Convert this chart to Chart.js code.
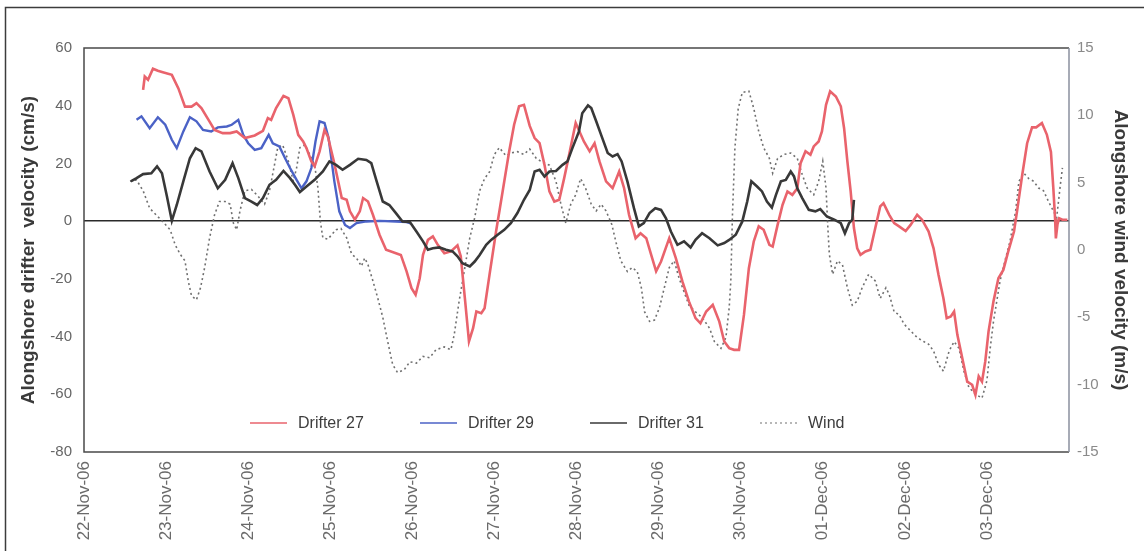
<!DOCTYPE html>
<html>
<head>
<meta charset="utf-8">
<script src="https://cdn.jsdelivr.net/npm/chart.js@4.4.0/dist/chart.umd.min.js"></script>
<style>
  html, body { margin: 0; padding: 0; background: #ffffff; }
  #wrap { position: relative; width: 1144px; height: 551px; }
</style>
</head>
<body>
<div id="wrap"><canvas id="chart" width="1144" height="551"></canvas></div>
<script>
// Date axis: one tick per day, starting 22-Nov-06 00:00 (x = days since then)
const dateLabels = ['22-Nov-06', '23-Nov-06', '24-Nov-06', '25-Nov-06', '26-Nov-06', '27-Nov-06',
  '28-Nov-06', '29-Nov-06', '30-Nov-06', '01-Dec-06', '02-Dec-06', '03-Dec-06'];

// Alongshore drifter velocity (cm/s), [day, value]
const drifter27 = [[0.72,45.5],[0.74,50.1],[0.78,49.0],[0.84,52.8],[0.90,52.1],[0.96,51.6],[1.07,50.7],[1.15,46.0],[1.23,39.7],[1.31,39.7],[1.37,40.9],[1.43,39.2],[1.53,34.5],[1.59,31.6],[1.69,30.5],[1.78,30.5],[1.86,31.1],[1.96,28.8],[2.08,29.7],[2.18,31.3],[2.24,35.7],[2.28,35.1],[2.34,39.2],[2.43,43.4],[2.49,42.6],[2.55,36.8],[2.61,29.9],[2.67,27.6],[2.71,25.3],[2.77,20.7],[2.81,19.0],[2.87,24.2],[2.93,31.6],[2.97,29.4],[3.05,20.0],[3.14,8.0],[3.20,7.4],[3.24,3.4],[3.30,0.5],[3.36,3.4],[3.40,8.0],[3.46,6.8],[3.52,2.2],[3.60,-4.7],[3.68,-9.9],[3.80,-11.1],[3.86,-11.7],[3.93,-17.4],[3.99,-23.2],[4.04,-25.5],[4.09,-19.8],[4.13,-11.7],[4.19,-6.5],[4.25,-5.3],[4.31,-8.2],[4.39,-11.1],[4.47,-10.5],[4.55,-8.4],[4.59,-12.2],[4.64,-26.7],[4.69,-41.7],[4.74,-37.1],[4.78,-31.3],[4.84,-31.9],[4.88,-30.2],[4.94,-18.6],[5.02,-3.6],[5.10,10.3],[5.18,24.2],[5.24,33.4],[5.30,39.8],[5.36,40.3],[5.43,33.0],[5.49,28.8],[5.55,27.0],[5.61,19.5],[5.67,10.3],[5.73,6.8],[5.79,7.4],[5.85,14.9],[5.91,23.0],[5.99,34.0],[6.09,27.6],[6.16,24.2],[6.22,27.0],[6.28,20.7],[6.36,13.8],[6.44,11.4],[6.52,17.2],[6.58,11.4],[6.64,2.2],[6.72,-5.9],[6.78,-4.2],[6.85,-5.9],[6.91,-11.7],[6.97,-17.4],[7.03,-14.0],[7.13,-5.9],[7.21,-12.8],[7.29,-20.9],[7.37,-27.8],[7.45,-33.6],[7.51,-35.4],[7.58,-31.3],[7.66,-29.0],[7.74,-34.8],[7.80,-41.7],[7.86,-44.0],[7.92,-44.6],[7.98,-44.6],[8.04,-32.5],[8.10,-16.3],[8.16,-7.0],[8.22,-1.8],[8.28,-3.0],[8.35,-8.2],[8.39,-8.8],[8.45,-1.3],[8.51,5.6],[8.57,10.3],[8.63,9.1],[8.69,11.4],[8.73,20.1],[8.79,24.2],[8.85,23.0],[8.89,25.9],[8.95,27.6],[8.99,31.1],[9.04,40.3],[9.09,45.0],[9.16,43.2],[9.22,39.8],[9.26,32.2],[9.30,20.7],[9.34,10.3],[9.38,-2.4],[9.42,-9.4],[9.46,-11.7],[9.52,-10.5],[9.58,-9.9],[9.64,-2.4],[9.70,5.1],[9.74,6.2],[9.81,2.2],[9.87,-0.7],[9.93,-1.8],[10.01,-3.4],[10.07,-1.3],[10.15,2.2],[10.21,0.5],[10.29,-3.6],[10.35,-9.4],[10.41,-18.6],[10.47,-26.7],[10.51,-33.6],[10.56,-33.0],[10.60,-31.3],[10.64,-39.4],[10.70,-47.5],[10.76,-55.6],[10.82,-56.7],[10.86,-60.2],[10.90,-53.8],[10.94,-55.6],[10.98,-48.6],[11.02,-38.2],[11.08,-27.8],[11.14,-19.8],[11.20,-16.9],[11.26,-10.5],[11.33,-3.6],[11.37,4.0],[11.43,16.0],[11.49,27.0],[11.55,32.5],[11.60,32.5],[11.67,34.0],[11.73,30.0],[11.78,24.0],[11.81,11.0],[11.83,1.0],[11.84,-6.0],[11.86,-1.0],[11.88,1.0],[11.92,0.5],[11.98,0.5]];

const drifter29 = [[0.64,35.1],[0.70,36.3],[0.80,32.2],[0.90,36.0],[0.99,33.4],[1.07,28.2],[1.13,25.3],[1.21,31.1],[1.29,36.0],[1.37,34.6],[1.45,31.6],[1.55,31.1],[1.63,32.5],[1.74,32.8],[1.80,33.4],[1.88,35.1],[1.94,29.9],[2.00,27.0],[2.08,24.7],[2.16,25.3],[2.25,29.9],[2.30,27.0],[2.38,25.9],[2.45,21.8],[2.51,18.4],[2.59,14.3],[2.65,11.4],[2.71,13.8],[2.77,18.4],[2.82,27.6],[2.87,34.6],[2.93,34.0],[2.98,28.8],[3.05,13.8],[3.11,3.4],[3.18,-1.3],[3.24,-2.4],[3.32,-0.7],[3.44,-0.1],[3.60,0.1],[3.80,-0.1],[3.93,-0.3],[3.98,-0.8]];

const drifter31 = [[0.57,13.8],[0.64,14.9],[0.72,16.3],[0.82,16.6],[0.89,19.0],[0.95,16.6],[1.01,8.6],[1.07,0.1],[1.13,5.6],[1.21,13.8],[1.29,21.8],[1.36,25.3],[1.43,24.2],[1.53,17.2],[1.63,11.4],[1.72,14.3],[1.81,20.1],[1.88,14.9],[1.96,8.0],[2.04,6.8],[2.11,5.6],[2.18,8.0],[2.26,12.6],[2.34,14.3],[2.43,17.4],[2.51,14.9],[2.57,12.6],[2.63,10.1],[2.71,12.0],[2.81,14.3],[2.91,17.2],[2.99,20.7],[3.07,19.5],[3.15,17.8],[3.24,19.5],[3.34,21.6],[3.44,21.2],[3.50,20.1],[3.56,14.3],[3.64,6.8],[3.72,5.6],[3.80,2.8],[3.88,-0.1],[3.97,-0.3],[4.05,-3.6],[4.13,-7.0],[4.19,-9.9],[4.25,-9.4],[4.33,-9.1],[4.41,-9.9],[4.49,-10.5],[4.55,-12.2],[4.61,-14.6],[4.70,-15.7],[4.76,-14.0],[4.82,-11.7],[4.90,-8.2],[4.96,-6.5],[5.04,-4.7],[5.12,-3.0],[5.20,-0.7],[5.28,2.8],[5.36,7.4],[5.43,10.8],[5.49,17.2],[5.55,17.8],[5.61,15.5],[5.67,17.2],[5.75,17.4],[5.83,19.5],[5.89,20.7],[5.95,25.3],[6.03,31.1],[6.07,37.4],[6.14,40.1],[6.18,39.2],[6.24,34.6],[6.30,29.9],[6.38,23.6],[6.44,22.4],[6.50,23.2],[6.55,20.7],[6.62,13.8],[6.70,4.5],[6.76,-1.8],[6.82,-0.7],[6.89,2.8],[6.96,4.5],[7.03,3.9],[7.09,1.0],[7.15,-3.6],[7.23,-8.2],[7.31,-7.0],[7.39,-9.1],[7.45,-6.5],[7.53,-4.2],[7.62,-5.9],[7.72,-8.4],[7.80,-7.6],[7.86,-6.5],[7.94,-4.7],[8.02,-0.1],[8.08,6.8],[8.13,13.8],[8.20,12.0],[8.26,10.3],[8.32,6.8],[8.38,4.7],[8.43,9.1],[8.49,13.8],[8.55,14.3],[8.61,17.2],[8.65,15.5],[8.69,11.4],[8.75,8.0],[8.83,3.9],[8.91,3.4],[8.97,4.2],[9.05,1.6],[9.14,0.5],[9.22,-0.7],[9.27,-4.2],[9.32,-0.7],[9.36,0.5],[9.38,7.4]];

// Alongshore wind velocity (m/s), [day, value]
const wind = [[0.56,5.1],[0.64,5.2],[0.72,4.4],[0.80,3.1],[0.88,2.6],[0.96,2.1],[1.05,1.5],[1.11,0.4],[1.17,-0.3],[1.23,-0.8],[1.27,-2.3],[1.31,-3.4],[1.37,-3.7],[1.42,-2.8],[1.47,-1.3],[1.53,0.9],[1.59,2.6],[1.65,3.6],[1.72,3.6],[1.78,3.4],[1.82,2.0],[1.86,1.5],[1.90,2.9],[1.96,4.4],[2.04,4.5],[2.12,4.0],[2.20,3.4],[2.26,4.4],[2.32,6.3],[2.36,7.6],[2.42,7.8],[2.49,6.6],[2.55,5.1],[2.59,6.1],[2.63,7.6],[2.69,7.8],[2.75,7.1],[2.81,6.3],[2.85,4.6],[2.88,2.1],[2.91,0.9],[2.97,0.8],[3.07,1.5],[3.13,1.6],[3.20,0.9],[3.26,-0.3],[3.32,-0.6],[3.38,-1.2],[3.42,-0.6],[3.46,-1.1],[3.52,-2.3],[3.58,-3.6],[3.64,-5.0],[3.70,-6.8],[3.76,-8.5],[3.82,-9.1],[3.90,-8.9],[3.97,-8.3],[4.05,-8.4],[4.13,-7.9],[4.21,-8.0],[4.29,-7.4],[4.39,-7.2],[4.47,-7.4],[4.51,-6.3],[4.57,-3.8],[4.64,-1.3],[4.70,0.9],[4.76,2.4],[4.82,4.4],[4.88,5.3],[4.94,5.8],[5.00,7.1],[5.06,7.6],[5.14,7.0],[5.20,7.2],[5.28,7.3],[5.36,7.1],[5.43,7.5],[5.51,6.8],[5.59,6.5],[5.67,6.3],[5.75,5.1],[5.81,3.4],[5.87,2.0],[5.93,3.4],[5.99,4.1],[6.05,5.3],[6.11,4.6],[6.18,3.4],[6.24,2.9],[6.30,3.4],[6.36,2.9],[6.43,1.9],[6.48,0.6],[6.54,-0.8],[6.62,-1.6],[6.68,-1.3],[6.74,-1.6],[6.79,-2.8],[6.83,-4.6],[6.89,-5.3],[6.95,-5.2],[7.01,-4.3],[7.07,-2.8],[7.13,-1.3],[7.19,-0.8],[7.25,-2.1],[7.31,-3.1],[7.37,-4.1],[7.45,-4.6],[7.53,-5.0],[7.62,-5.8],[7.68,-6.8],[7.76,-7.3],[7.82,-6.5],[7.86,-4.3],[7.88,-2.3],[7.90,2.6],[7.93,7.6],[7.97,10.5],[8.02,11.7],[8.10,11.8],[8.16,10.5],[8.22,8.8],[8.28,7.6],[8.35,6.8],[8.39,5.7],[8.45,6.8],[8.53,7.1],[8.61,7.2],[8.69,6.8],[8.75,5.6],[8.81,4.6],[8.89,4.1],[8.95,5.1],[9.00,6.6],[9.04,4.6],[9.06,1.9],[9.08,-0.3],[9.12,-1.8],[9.18,-0.8],[9.24,-1.1],[9.30,-2.8],[9.36,-4.1],[9.42,-3.8],[9.48,-2.8],[9.56,-1.8],[9.64,-2.3],[9.70,-3.6],[9.77,-2.8],[9.81,-3.3],[9.87,-4.6],[9.93,-4.8],[9.99,-5.5],[10.07,-6.0],[10.15,-6.5],[10.23,-6.8],[10.29,-7.0],[10.35,-7.5],[10.41,-8.5],[10.47,-9.0],[10.54,-7.5],[10.60,-6.8],[10.66,-7.3],[10.72,-9.0],[10.78,-10.2],[10.86,-10.7],[10.94,-11.0],[11.00,-9.7],[11.04,-7.3],[11.08,-5.3],[11.12,-3.8],[11.16,-2.3],[11.22,-0.8],[11.28,0.6],[11.35,2.9],[11.39,5.1],[11.45,5.7],[11.51,5.3],[11.57,5.1],[11.63,4.6],[11.69,4.4],[11.75,3.6],[11.81,2.9],[11.85,2.4],[11.89,4.6],[11.92,6.1]];

const FONT = '"Liberation Sans", Arial, Helvetica, sans-serif';
const toPoints = arr => arr.map(([x, y]) => ({ x, y }));

// Outer frame of the figure and the box round the plot area
const framePlugin = {
  id: 'framePlugin',
  beforeDraw(chart) {
    const ctx = chart.ctx;
    ctx.save();
    ctx.strokeStyle = '#3c3c3c';
    ctx.lineWidth = 1.5;
    ctx.beginPath();
    ctx.moveTo(5.5, chart.height);
    ctx.lineTo(5.5, 7.5);
    ctx.lineTo(chart.width, 7.5);
    ctx.stroke();
    ctx.restore();
  },
  beforeDatasetsDraw(chart) {
    const { ctx, chartArea: a } = chart;
    ctx.save();
    ctx.strokeStyle = '#4a4a4a';
    ctx.lineWidth = 1.5;
    ctx.beginPath();
    ctx.moveTo(a.right, a.top);
    ctx.lineTo(a.left, a.top);
    ctx.lineTo(a.left, a.bottom);
    ctx.lineTo(a.right, a.bottom);
    ctx.stroke();
    ctx.strokeStyle = '#8a8f9e';
    ctx.beginPath();
    ctx.moveTo(a.right, a.top);
    ctx.lineTo(a.right, a.bottom);
    ctx.stroke();
    ctx.restore();
  }
};

// Legend drawn in one row inside the plot area, near its bottom edge
const insideLegend = {
  id: 'insideLegend',
  afterDatasetsDraw(chart) {
    const { ctx, chartArea: a } = chart;
    const y = a.bottom - 29;
    let x = a.left + 166;
    ctx.save();
    ctx.font = '16px ' + FONT;
    ctx.textBaseline = 'middle';
    ctx.textAlign = 'left';
    chart.data.datasets.forEach(ds => {
      ctx.strokeStyle = ds.borderColor;
      ctx.lineWidth = ds.legendLineWidth;
      ctx.setLineDash(ds.borderDash || []);
      ctx.beginPath();
      ctx.moveTo(x, y);
      ctx.lineTo(x + 37, y);
      ctx.stroke();
      ctx.setLineDash([]);
      ctx.fillStyle = '#3d3d3d';
      ctx.fillText(ds.label, x + 48, y + 1);
      x += 170;
    });
    ctx.restore();
  }
};

const lineDefaults = { pointRadius: 0, tension: 0, fill: false, spanGaps: true };

new Chart(document.getElementById('chart'), {
  type: 'line',
  data: {
    datasets: [
      { ...lineDefaults, label: 'Drifter 27', data: toPoints(drifter27), yAxisID: 'y',
        borderColor: '#e9636c', borderWidth: 2.6, legendLineWidth: 1.5, order: 1 },
      { ...lineDefaults, label: 'Drifter 29', data: toPoints(drifter29), yAxisID: 'y',
        borderColor: '#4b62c6', borderWidth: 2.4, legendLineWidth: 1.5, order: 2 },
      { ...lineDefaults, label: 'Drifter 31', data: toPoints(drifter31), yAxisID: 'y',
        borderColor: '#383838', borderWidth: 2.6, legendLineWidth: 1.5, order: 0 },
      { ...lineDefaults, label: 'Wind', data: toPoints(wind), yAxisID: 'yWind',
        borderColor: '#707070', borderWidth: 1.6, borderDash: [2, 3], legendLineWidth: 1.2, order: 3 }
    ]
  },
  options: {
    responsive: false,
    animation: false,
    devicePixelRatio: 1,
    layout: { padding: { top: 48, left: 0, right: 0, bottom: 0 } },
    plugins: { legend: { display: false }, tooltip: { enabled: false } },
    scales: {
      x: {
        type: 'linear', min: 0, max: 12,
        afterFit(s) { s.height = 99; },
        afterBuildTicks(s) { s.ticks = dateLabels.map((_, i) => ({ value: i })); },
        ticks: {
          autoSkip: false, minRotation: 90, maxRotation: 90, padding: 9,
          color: '#6a6a6a', font: { family: FONT, size: 17 },
          callback: v => dateLabels[v] ?? ''
        },
        grid: { display: false, drawTicks: false },
        border: { display: false }
      },
      y: {
        position: 'left', min: -80, max: 60,
        afterFit(s) { s.width = 84; },
        ticks: { stepSize: 20, padding: 12, color: '#666666', font: { family: FONT, size: 15 } },
        grid: {
          drawTicks: false, lineWidth: 1.5,
          color: c => (c.tick && c.tick.value === 0) ? '#2a2a2a' : 'rgba(0,0,0,0)'
        },
        border: { display: false },
        title: {
          display: true, text: 'Alongshore drifter  velocity (cm/s)', color: '#3a3a3a',
          font: { family: FONT, size: 19, weight: 'bold' }, padding: { top: 17, bottom: 0 }
        }
      },
      yWind: {
        position: 'right', min: -15, max: 15,
        afterFit(s) { s.width = 75; },
        ticks: { stepSize: 5, padding: 8, color: '#8a8a8a', font: { family: FONT, size: 15 } },
        grid: { display: false, drawTicks: false },
        border: { display: false },
        title: {
          display: true, text: 'Alongshore wind velocity (m/s)', color: '#3a3a3a',
          font: { family: FONT, size: 19, weight: 'bold' }, padding: { top: 12, bottom: 0 }
        }
      }
    }
  },
  plugins: [framePlugin, insideLegend]
});
</script>
</body>
</html>
